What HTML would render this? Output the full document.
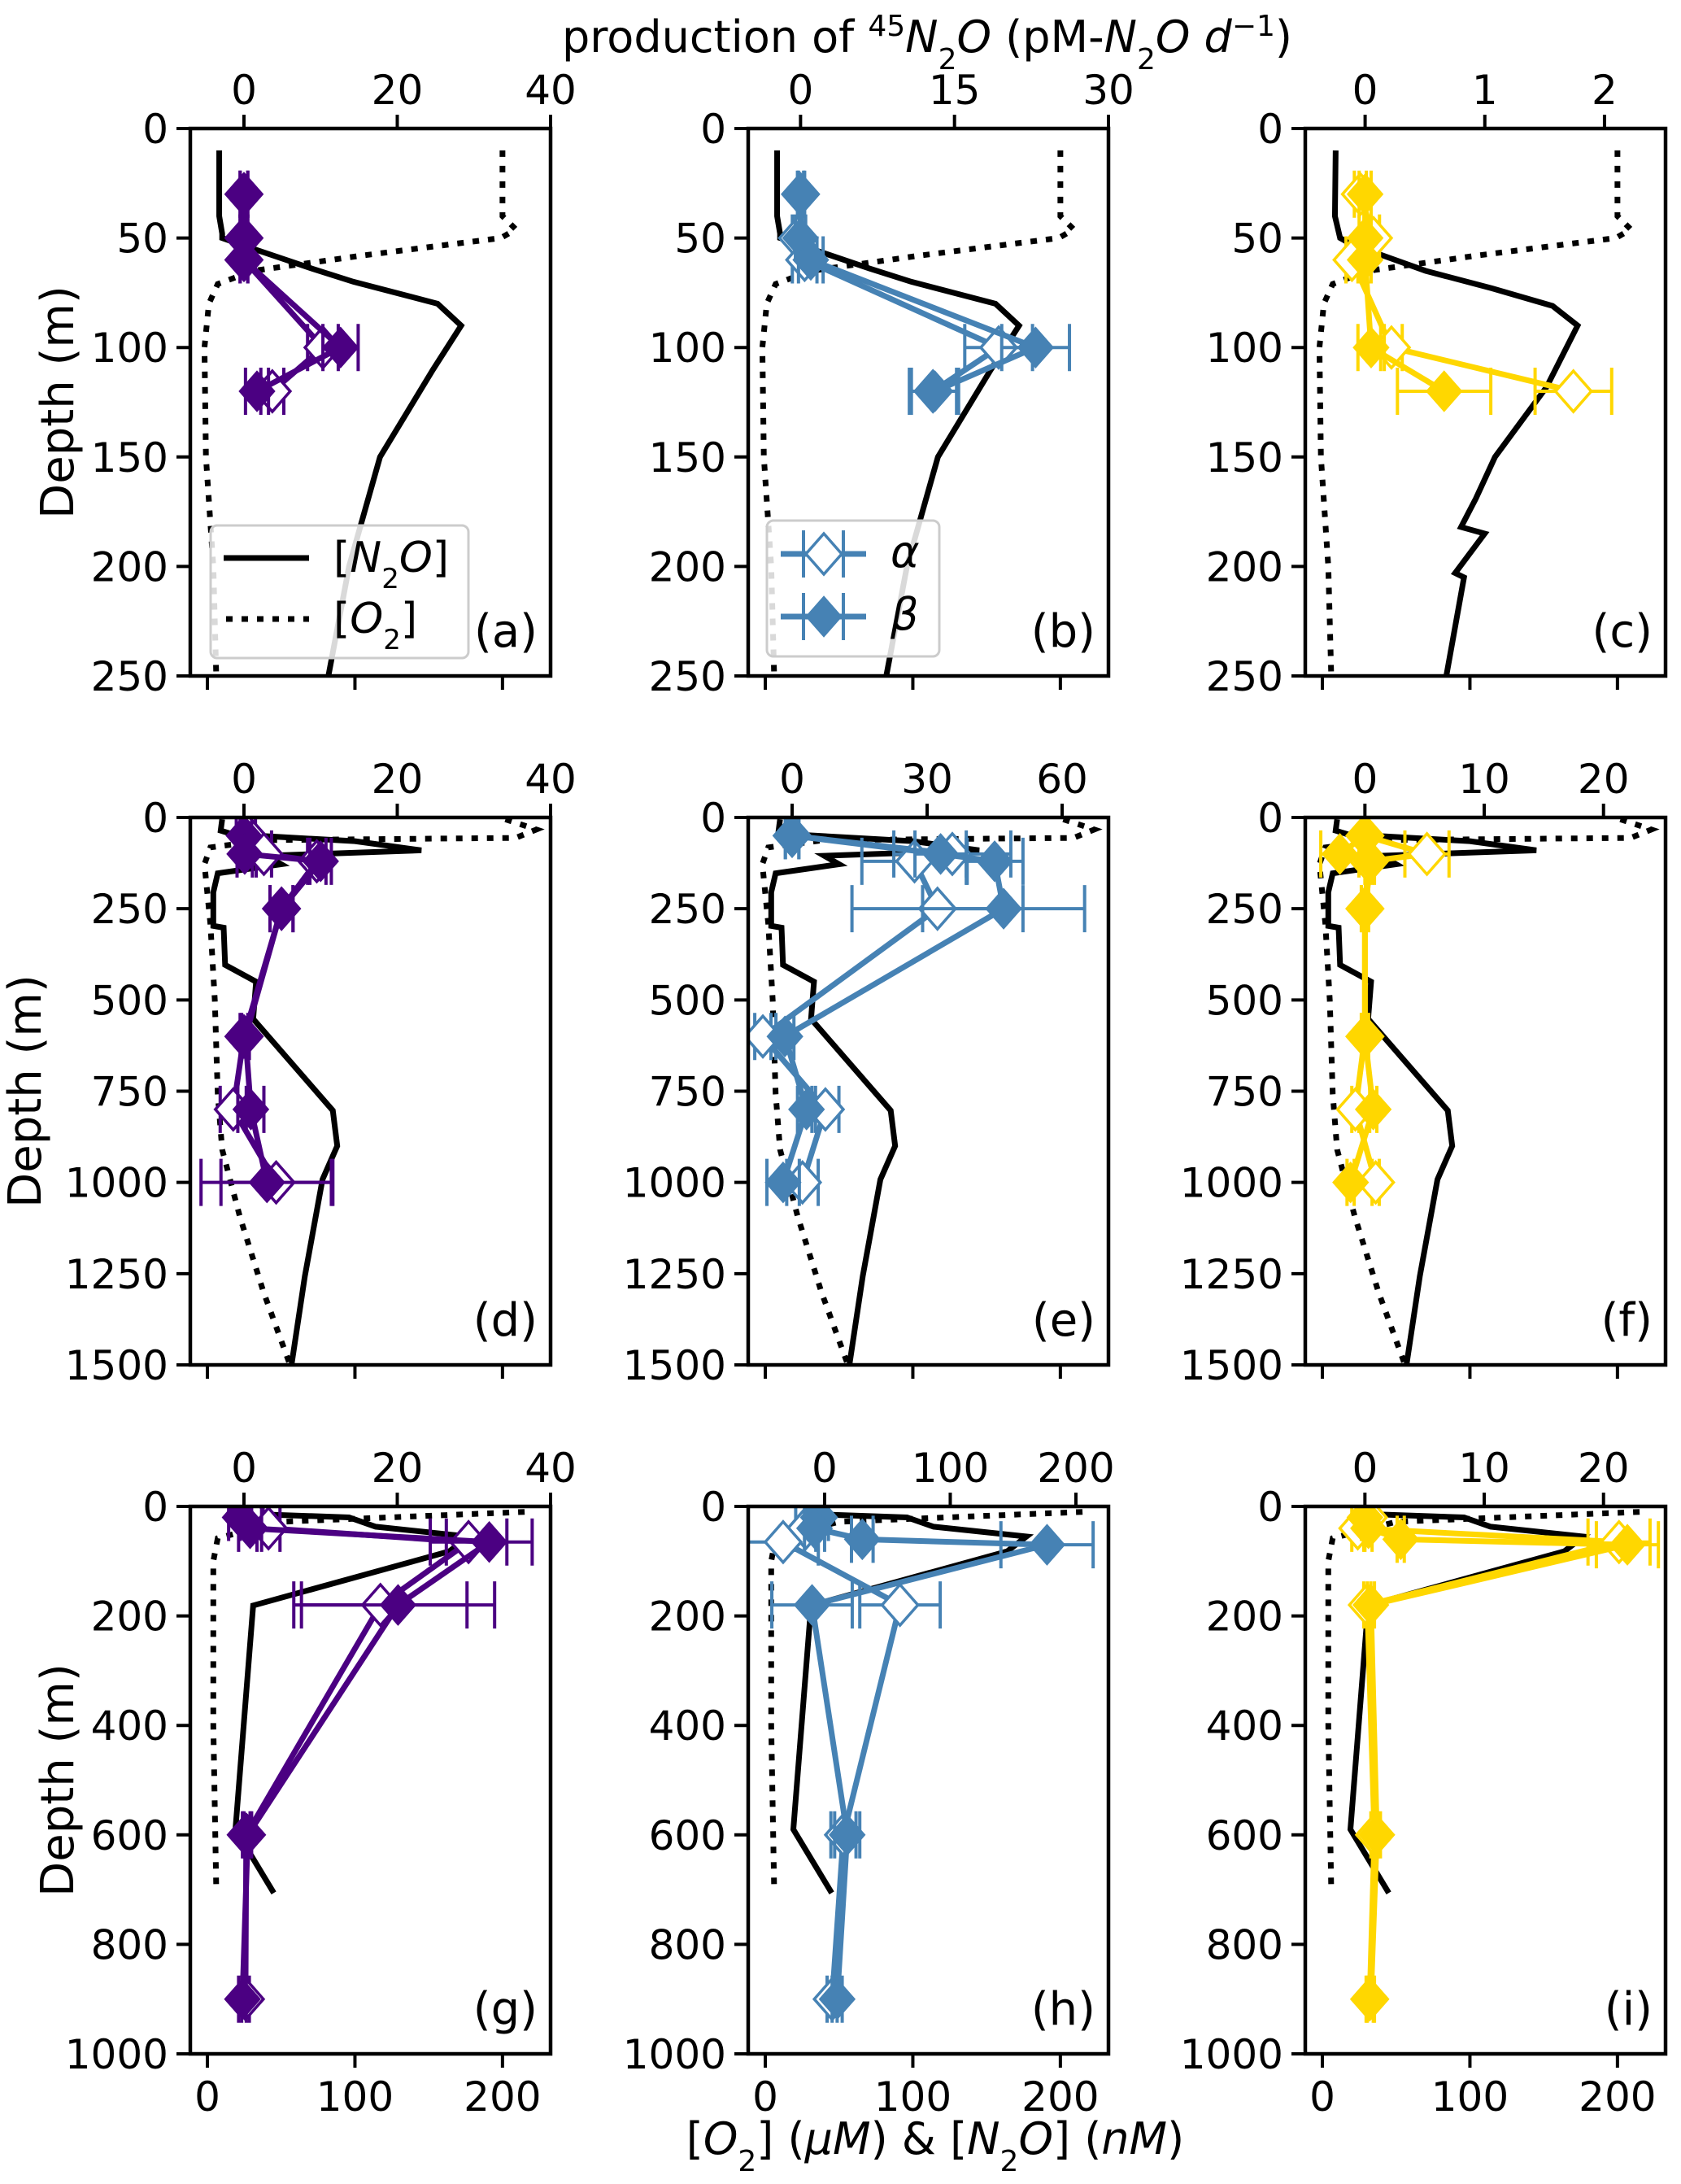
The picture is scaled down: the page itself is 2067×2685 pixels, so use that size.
<!DOCTYPE html>
<html><head><meta charset="utf-8">
<style>
html,body{margin:0;padding:0;background:#fff;}
svg{display:block;font-family:"DejaVu Sans","Liberation Sans",sans-serif;}
</style></head>
<body>
<svg id="fig" width="2067" height="2685" viewBox="0 0 2067 2685" xmlns="http://www.w3.org/2000/svg">
<rect width="2067" height="2685" fill="#fff"/>
<text x="1140" y="64" font-size="54" text-anchor="middle">production of <tspan baseline-shift="super" font-size="36">45</tspan><tspan font-style="italic">N</tspan><tspan baseline-shift="sub" font-size="36">2</tspan><tspan font-style="italic">O</tspan> (pM-<tspan font-style="italic">N</tspan><tspan baseline-shift="sub" font-size="36">2</tspan><tspan font-style="italic">O d</tspan><tspan baseline-shift="super" font-size="36">−1</tspan>)</text>
<text x="1150" y="2648" font-size="54" text-anchor="middle">[<tspan font-style="italic">O</tspan><tspan baseline-shift="sub" font-size="36">2</tspan>] (<tspan font-style="italic">μM</tspan>) &amp; [<tspan font-style="italic">N</tspan><tspan baseline-shift="sub" font-size="36">2</tspan><tspan font-style="italic">O</tspan>] (<tspan font-style="italic">nM</tspan>)</text>
</svg>
<script>
// ---------- data ----------
const rowDepthMax = [250, 1500, 1000];
const rowDepthTicks = [[0,50,100,150,200,250],[0,250,500,750,1000,1250,1500],[0,200,400,600,800,1000]];
const topTicks = [[[0,20,40],[0,15,30],[0,1,2]],[[0,20,40],[0,30,60],[0,10,20]],[[0,20,40],[0,100,200],[0,10,20]]];
const bottomTicks = [0,100,200];
const panelLabels = ["(a)","(b)","(c)","(d)","(e)","(f)","(g)","(h)","(i)"];

const n2oDepthR1 = [10,40,48,50,54,64,70,80,90,110,150,200,250];
const n2oR1 = [8,8,10,10,27,71,99,156,172,153,117,96,82];
const n2oDepthC1 = [10,40,50,53,58,65,73,81,90,118,150,169,182,185,203,205,250];
const n2oC1 = [9,8.5,12,20,41,70,115,156,173,152,117,104,94,110,90,96,84];
const o2DepthR1 = [10,40,46,50,58,65,71,80,100,150,200,250];
const o2R1 = [200,200,209,199,105,31,7,1,-2,-1,4,6];
const n2oDepthR2 = [5,36,46,65,90,105,128,153,205,297,302,404,450,552,803,900,992,1258,1500];
const n2oR2 = [10,9,17,100,145,40,50,7,4,4,11,12,33,31,85,88,78,66,57];
const o2DepthR2 = [5,33,56,62,82,128,291,500,757,910,1094,1300,1500];
const o2R2 = [202,223,209,40,2,-2,2,5,7,10,22,38,56];
const n2oDepthR3 = [14,20,37,55,82,181,590,706];
const n2oR3 = [31,96,114,177,164,31,19,45];
const o2DepthR3 = [10,28,58,100,400,700];
const o2R3 = [215,50,7,4,4,6];

const depthR1 = [30,50,60,100,120];
const alphaA = [0,0,0,10.3,3.7], alphaAErr = [0.5,0.5,0.5,2,1.5];
const betaA = [0,0,0,12.6,1.7], betaAErr = [0.5,0.5,0.5,2.3,1.5];
const alphaB = [0,-0.3,0.4,19.3,12.9], alphaBErr = [0.3,0.5,1.2,3.3,2.3];
const betaB = [0.1,0,1.0,22.9,13.1], betaBErr = [0.3,0.5,1.2,3.3,2.3];
const alphaC = [-0.04,0.07,-0.11,0.22,1.74], alphaCErr = [0.05,0.05,0.05,0.09,0.32];
const betaC = [0,0,0,0.05,0.66], betaCErr = [0.05,0.05,0.05,0.11,0.39];

const depthR2 = [50,100,120,250,600,800,1000];
const alphaD = [0.5,2.6,9.5,4.9,0,-1.4,4.2], alphaDErr = [1,1,1.2,1.5,0.5,1.7,7.2];
const betaD = [0,0.1,10,4.9,0.2,0.9,3.0], betaDErr = [1,1,1.4,1.5,0.5,1.7,8.6];
const alphaE = [0,35.6,27.2,32.3,-6.5,7.4,2.3], alphaEErr = [1.5,13,11.7,19,1.8,3,3.5];
const betaE = [0,33,45,47,-1.6,3.2,-2], betaEErr = [1.5,5.7,6.3,18,2,2,3.6];
const alphaF = [0,5.2,0.3,0,0,-0.8,0.9], alphaFErr = [0.3,1.85,0.3,0.3,0.3,0.3,0.3];
const betaF = [0,-2.1,0.5,0,0,0.7,-1.2], betaFErr = [0.3,1.6,0.3,0.3,0.3,0.3,0.3];

const depthR3a = [20,40,65,180,600,900];
const depthR3b = [20,40,60,70,180,600,900];
const alphaG = [1.0,3.2,29.3,17.8,0.3,0.2], alphaGErr = [1.5,1.5,5,11.3,0.5,0.5];
const betaG = [-0.5,0.8,32,20.1,0.5,-0.2], betaGErr = [1.5,1.5,5.6,12.6,0.5,0.5];
const alphaH = [-5,-15,-33,60,15,6], alphaHErr = [8,8,28,32,10,4];
const betaH = [-5,-8,30,177,-10,18,10], betaHErr = [8,8,8.6,36.7,32,10,4];
const alphaI = [0.3,-0.6,21.3,0.2,0.8,0.4], alphaIErr = [0.5,0.5,2.6,0.3,0.3,0.3];
const betaI = [0,0.3,3.0,22,0.5,1.0,0.5], betaIErr = [0.3,0.3,0.3,2.6,0.3,0.3,0.3];

// ---------- layout ----------
const colX = [234, 920, 1605], rowY = [158, 1005, 1852];
const PW = 443, PH = 673;
const bottomDomain = [-11.6, 232.6];
const topDomains = [[[-7,40],[-5.1,30],[-0.5,2.51]],[[-7,40],[-9.76,70.3],[-5.0,25.2]],[[-7,40],[-60.8,225.9],[-5.0,25.2]]];
const colors = ["#4b0082","#4682b4","#ffd700"];
const yTitleX = [90, 50, 90];

const NS = "http://www.w3.org/2000/svg";
const svg = document.getElementById("fig");
function mk(tag, attrs, parent){
  const e = document.createElementNS(NS, tag);
  for (const k in attrs) e.setAttribute(k, attrs[k]);
  (parent||svg).appendChild(e);
  return e;
}

const panels = [
  {r:0,c:0,n2oD:n2oDepthR1,n2o:n2oR1,o2D:o2DepthR1,o2:o2R1,aD:depthR1,a:alphaA,ae:alphaAErr,bD:depthR1,b:betaA,be:betaAErr},
  {r:0,c:1,n2oD:n2oDepthR1,n2o:n2oR1,o2D:o2DepthR1,o2:o2R1,aD:depthR1,a:alphaB,ae:alphaBErr,bD:depthR1,b:betaB,be:betaBErr},
  {r:0,c:2,n2oD:n2oDepthC1,n2o:n2oC1,o2D:o2DepthR1,o2:o2R1,aD:depthR1,a:alphaC,ae:alphaCErr,bD:depthR1,b:betaC,be:betaCErr},
  {r:1,c:0,n2oD:n2oDepthR2,n2o:n2oR2,o2D:o2DepthR2,o2:o2R2,aD:depthR2,a:alphaD,ae:alphaDErr,bD:depthR2,b:betaD,be:betaDErr},
  {r:1,c:1,n2oD:n2oDepthR2,n2o:n2oR2,o2D:o2DepthR2,o2:o2R2,aD:depthR2,a:alphaE,ae:alphaEErr,bD:depthR2,b:betaE,be:betaEErr},
  {r:1,c:2,n2oD:n2oDepthR2,n2o:n2oR2,o2D:o2DepthR2,o2:o2R2,aD:depthR2,a:alphaF,ae:alphaFErr,bD:depthR2,b:betaF,be:betaFErr},
  {r:2,c:0,n2oD:n2oDepthR3,n2o:n2oR3,o2D:o2DepthR3,o2:o2R3,aD:depthR3a,a:alphaG,ae:alphaGErr,bD:depthR3a,b:betaG,be:betaGErr},
  {r:2,c:1,n2oD:n2oDepthR3,n2o:n2oR3,o2D:o2DepthR3,o2:o2R3,aD:depthR3a,a:alphaH,ae:alphaHErr,bD:depthR3b,b:betaH,be:betaHErr},
  {r:2,c:2,n2oD:n2oDepthR3,n2o:n2oR3,o2D:o2DepthR3,o2:o2R3,aD:depthR3a,a:alphaI,ae:alphaIErr,bD:depthR3b,b:betaI,be:betaIErr}
];

function diamond(cx, cy, filled, color, parent){
  const hw = 22, hh = 25;
  return mk("polygon", {points:`${cx},${cy-hh} ${cx+hw},${cy} ${cx},${cy+hh} ${cx-hw},${cy}`,
    fill: filled ? color : "#fff", stroke: color, "stroke-width": filled ? 1 : 3.5}, parent);
}

panels.forEach((p, idx) => {
  const x0 = colX[p.c], y0 = rowY[p.r];
  const dmax = rowDepthMax[p.r];
  const td = topDomains[p.r][p.c];
  const color = colors[p.c];
  const yS = d => y0 + d / dmax * PH;
  const xB = v => x0 + (v - bottomDomain[0]) / (bottomDomain[1] - bottomDomain[0]) * PW;
  const xT = v => x0 + (v - td[0]) / (td[1] - td[0]) * PW;

  const g = mk("g", {});
  
  
  const clipId = "clip" + idx;
  const cp = mk("clipPath", {id: clipId}, g);
  mk("rect", {x: x0, y: y0, width: PW, height: PH}, cp);
  const plot = mk("g", {"clip-path": `url(#${clipId})`}, g);

  const n2o = mk("polyline", {points: p.n2o.map((v,i)=>`${xB(v)},${yS(p.n2oD[i])}`).join(" "),
    fill:"none", stroke:"#000", "stroke-width":7}, plot);
  
  
  const o2 = mk("polyline", {points: p.o2.map((v,i)=>`${xB(v)},${yS(p.o2D[i])}`).join(" "),
    fill:"none", stroke:"#000", "stroke-width":7, "stroke-dasharray":"8 11"}, plot);
  
  

  [[p.aD,p.a,p.ae,false,'alpha'],[p.bD,p.b,p.be,true,'beta']].forEach(s => {
    const [D, V, E, filled, nm] = s;
    const sg = mk("g", {}, plot);
    
    
    V.forEach((v,i) => {
      const y = yS(D[i]), xl = xT(v - E[i]), xr = xT(v + E[i]);
      mk("line", {x1:xl, y1:y, x2:xr, y2:y, stroke:color, "stroke-width":4}, sg);
      mk("line", {x1:xl, y1:y-29, x2:xl, y2:y+29, stroke:color, "stroke-width":4}, sg);
      mk("line", {x1:xr, y1:y-29, x2:xr, y2:y+29, stroke:color, "stroke-width":4}, sg);
    });
    mk("polyline", {points: V.map((v,i)=>`${xT(v)},${yS(D[i])}`).join(" "), fill:"none", stroke:color, "stroke-width":7}, sg);
    V.forEach((v,i) => {
      const m = diamond(xT(v), yS(D[i]), filled, color, sg);
      
      
    });
  });

  const fr = mk("rect", {x:x0, y:y0, width:PW, height:PH, fill:"none", stroke:"#000", "stroke-width":4.5}, g);
  
  

  rowDepthTicks[p.r].forEach(t => {
    const y = yS(t);
    mk("line", {x1:x0-17, y1:y, x2:x0, y2:y, stroke:"#000", "stroke-width":4}, g);
    const tl = mk("text", {x:x0-27, y:y+18, "font-size":50, "text-anchor":"end"}, g);
    tl.textContent = t;
    
    
  });
  topTicks[p.r][p.c].forEach(t => {
    const x = xT(t);
    mk("line", {x1:x, y1:y0-17, x2:x, y2:y0, stroke:"#000", "stroke-width":4}, g);
    const tl = mk("text", {x:x, y:y0-30, "font-size":50, "text-anchor":"middle"}, g);
    tl.textContent = t;
    
    
  });
  bottomTicks.forEach(t => {
    const x = xB(t);
    mk("line", {x1:x, y1:y0+PH, x2:x, y2:y0+PH+17, stroke:"#000", "stroke-width":4}, g);
    if (p.r === 2) {
      const tl = mk("text", {x:x, y:y0+PH+70, "font-size":50, "text-anchor":"middle"}, g);
      tl.textContent = t;
      
      
    }
  });
  const pl = mk("text", {x:x0+PW-16, y:y0+PH-36, "font-size":56, "text-anchor":"end"}, g);
  pl.textContent = panelLabels[idx];
  
  

  if (p.c === 0) {
    const cy = y0 + PH/2;
    const tx = yTitleX[p.r];
    const yl = mk("text", {x:tx, y:cy, "font-size":56, "text-anchor":"middle", transform:`rotate(-90 ${tx} ${cy})`}, g);
    yl.textContent = "Depth (m)";
    
    
  }
});

const la = mk("g", {});


mk("rect", {x:259, y:646, width:317, height:163, rx:8, fill:"#fff", "fill-opacity":0.85, stroke:"#ccc", "stroke-width":3}, la);
mk("line", {x1:275, y1:686, x2:380, y2:686, stroke:"#000", "stroke-width":7}, la);
const t1 = mk("text", {x:410, y:703, "font-size":52}, la);
t1.innerHTML = '[<tspan font-style="italic">N</tspan><tspan font-size="34" baseline-shift="sub">2</tspan><tspan font-style="italic">O</tspan>]';


mk("line", {x1:278, y1:761, x2:380, y2:761, stroke:"#000", "stroke-width":7, "stroke-dasharray":"8 11"}, la);
const t2 = mk("text", {x:410, y:778, "font-size":52}, la);
t2.innerHTML = '[<tspan font-style="italic">O</tspan><tspan font-size="34" baseline-shift="sub">2</tspan>]';



const lb = mk("g", {});


mk("rect", {x:943, y:640, width:212, height:167, rx:8, fill:"#fff", "fill-opacity":0.85, stroke:"#ccc", "stroke-width":3}, lb);
[[681,false,"α"],[758,true,"β"]].forEach(e => {
  const [y, filled, lab] = e;
  mk("line", {x1:960, y1:y, x2:1065, y2:y, stroke:colors[1], "stroke-width":7}, lb);
  mk("line", {x1:988, y1:y-29, x2:988, y2:y+29, stroke:colors[1], "stroke-width":4}, lb);
  mk("line", {x1:1037, y1:y-29, x2:1037, y2:y+29, stroke:colors[1], "stroke-width":4}, lb);
  diamond(1013, y, filled, colors[1], lb);
  const t = mk("text", {x:1095, y:y+16, "font-size":54, "font-style":"italic"}, lb);
  t.textContent = lab;
  
  
});
</script>
</body></html>
